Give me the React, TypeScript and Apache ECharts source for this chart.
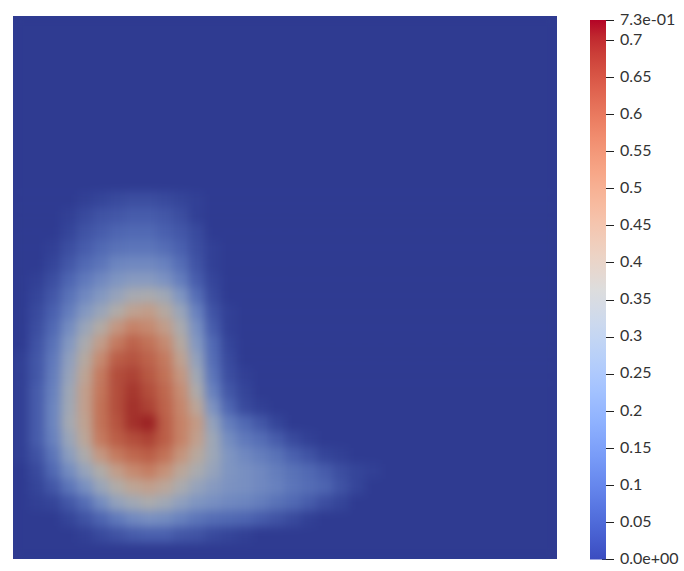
import React, { useEffect, useRef } from "react";
import * as echarts from "echarts";

const scaleMin = 0;
const scaleMax = 0.727;
const scaleStep = 0.05;

// Cool-to-warm colour table used by the scale bar, bottom to top.
const coolWarm: number[][] = [
  [59,76,192],[68,90,204],[77,104,215],[87,117,225],[98,130,234],[108,142,241],[119,154,247],[130,165,251],
  [141,176,254],[152,185,255],[163,194,255],[174,201,253],[184,208,249],[194,213,244],[204,217,238],[213,219,230],
  [221,221,221],[229,216,209],[236,211,197],[241,204,185],[245,196,173],[247,187,160],[247,177,148],[247,166,135],
  [244,154,123],[241,141,111],[236,127,99],[229,112,88],[222,96,77],[213,80,66],[203,62,56],[192,40,47],[180,4,38],
];

const gridColumns = 34;
const gridRows = 34;
const firstFieldRow = 11;

// Field values, row by row from y = 200 downward; cells to the right are zero.
const fieldValues: number[][] = [
  [0,0,0,0,.01,.02,.03,.04,.04,.03,.02,.01],
  [0,0,0,.01,.03,.05,.06,.07,.07,.06,.04,.01],
  [0,0,0,.02,.05,.07,.09,.1,.1,.08,.06,.03],
  [0,0,.01,.04,.07,.1,.12,.13,.13,.11,.08,.04,.01],
  [0,0,.02,.06,.1,.13,.17,.18,.18,.16,.11,.05,.01],
  [0,.01,.04,.09,.14,.18,.22,.24,.24,.21,.15,.07,.02],
  [0,.02,.06,.12,.18,.23,.28,.33,.34,.31,.22,.11,.03],
  [0,.03,.08,.15,.23,.29,.36,.42,.44,.38,.29,.16,.05,.01],
  [0,.04,.1,.19,.29,.37,.46,.52,.5,.44,.34,.2,.07,.01],
  [0,.05,.12,.23,.34,.44,.54,.59,.56,.5,.38,.23,.1,.02],
  [.01,.06,.14,.26,.38,.5,.6,.62,.59,.54,.42,.27,.11,.03],
  [.01,.06,.15,.28,.41,.54,.63,.65,.61,.56,.46,.31,.13,.04,.01],
  [.01,.07,.16,.3,.43,.55,.63,.67,.63,.58,.49,.35,.16,.06,.02],
  [.01,.07,.17,.31,.43,.56,.63,.68,.65,.59,.51,.4,.21,.09,.03,.01],
  [.01,.07,.17,.32,.42,.56,.62,.68,.7,.6,.52,.45,.27,.15,.1,.06,.02],
  [.01,.07,.16,.29,.4,.54,.6,.63,.65,.6,.52,.43,.3,.19,.14,.11,.07,.03,.01],
  [.01,.05,.13,.25,.35,.46,.54,.58,.6,.56,.47,.39,.3,.22,.18,.15,.12,.08,.05,.02,.01],
  [0,.03,.1,.19,.28,.36,.44,.5,.53,.48,.4,.34,.28,.22,.2,.18,.15,.12,.1,.07,.04,.02,.01],
  [0,.02,.06,.13,.2,.29,.36,.41,.43,.4,.34,.28,.24,.21,.2,.18,.16,.13,.11,.09,.05,.02],
  [0,.01,.02,.06,.11,.19,.27,.31,.34,.31,.26,.22,.2,.18,.17,.15,.12,.1,.07,.04,.02],
  [0,0,0,.02,.05,.09,.14,.18,.2,.19,.16,.13,.11,.1,.09,.07,.05,.03,.01],
  [0,0,0,0,.01,.03,.05,.07,.08,.08,.06,.05,.03,.02,.01],
];

const shade = [0.8, 0.78, 0.755];
const rgb = (c: number[], k: number[] = [1, 1, 1]) =>
  `rgb(${Math.round(c[0] * k[0])},${Math.round(c[1] * k[1])},${Math.round(c[2] * k[2])})`;

export default function App() {
  const fieldRef = useRef<HTMLDivElement>(null);
  const overlayRef = useRef<HTMLDivElement>(null);

  useEffect(() => {
    const field = echarts.init(fieldRef.current!, undefined, { renderer: "svg" });
    const overlay = echarts.init(overlayRef.current!, undefined, { renderer: "svg" });

    const cells: number[][] = [];
    for (let r = 0; r < gridRows; r++) {
      for (let c = 0; c < gridColumns; c++) {
        const row = fieldValues[r - firstFieldRow];
        cells.push([c, r, row && row[c] !== undefined ? row[c] : 0]);
      }
    }
    const idx = (n: number) => Array.from({ length: n }, (_, i) => String(i));

    field.setOption({
      animation: false,
      grid: { left: 0, right: 0, top: 0, bottom: 0 },
      xAxis: { type: "category", data: idx(gridColumns), show: false },
      yAxis: { type: "category", data: idx(gridRows), show: false, inverse: true },
      visualMap: {
        show: false,
        min: scaleMin,
        max: scaleMax,
        inRange: { color: coolWarm.map((c) => rgb(c, shade)) },
      },
      series: [{ type: "heatmap", data: cells, itemStyle: { borderWidth: 0 } }],
    });

    overlay.setOption({
      animation: false,
      grid: { left: 590, width: 16, top: 20, height: 539.5 },
      xAxis: { type: "category", data: ["scale"], show: false },
      yAxis: {
        type: "value",
        position: "right",
        offset: -4,
        min: scaleMin,
        max: scaleMax,
        interval: scaleStep,
        splitLine: { show: false },
        axisLine: { show: false },
        axisTick: { show: true, length: 12, lineStyle: { color: "#222", width: 1 } },
        axisLabel: {
          margin: 18,
          color: "#333",
          fontFamily: "Lato",
          fontSize: 16,
          verticalAlign: "bottom",
          lineHeight: 4,
          formatter: (v: number) =>
            v === scaleMin ? "0.0e+00" : v === scaleMax ? "7.3e-01" : String(Number(v.toFixed(2))),
        },
      },
      series: [
        {
          type: "bar",
          data: [scaleMax],
          barWidth: "100%",
          itemStyle: {
            color: new echarts.graphic.LinearGradient(
              0, 1, 0, 0,
              coolWarm.map((c, i) => ({ offset: i / (coolWarm.length - 1), color: rgb(c) }))
            ),
          },
        },
      ],
    });

    return () => {
      field.dispose();
      overlay.dispose();
    };
  }, []);

  return (
    <div style={{ position: "absolute", left: 0, top: 0, width: 684, height: 571, background: "#fff" }}>
      <div
        style={{
          position: "absolute",
          left: 13,
          top: 16,
          width: 544,
          height: 543,
          overflow: "hidden",
          background: rgb(coolWarm[0], shade),
        }}
      >
        <div ref={fieldRef} style={{ width: 544, height: 543, filter: "blur(5px)" }} />
      </div>
      <div ref={overlayRef} style={{ position: "absolute", left: 0, top: 0, width: 684, height: 571 }} />
    </div>
  );
}
